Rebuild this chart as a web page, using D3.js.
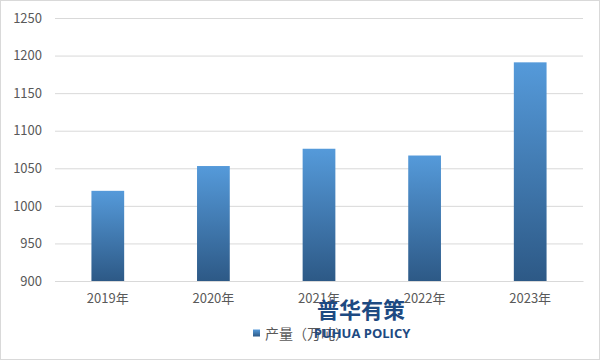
<!DOCTYPE html>
<html><head><meta charset="utf-8">
<script src="https://cdn.jsdelivr.net/npm/d3@7/dist/d3.min.js"></script>
<style>body{margin:0;background:#fff}svg{display:block}</style>
</head><body>
<script>
const categories = ["2019年","2020年","2021年","2022年","2023年"];
const values = [1020, 1053, 1076, 1067, 1191];
const yTicks = [900, 950, 1000, 1050, 1100, 1150, 1200, 1250];
const seriesName = "产量（万吨）";

const W = 601, H = 361;
const m = {left: 55, right: 18, top: 18, bottom: 80};
const svg = d3.select("body").append("svg").attr("width", W).attr("height", H);
const font = "'Microsoft YaHei','Noto Sans CJK SC','DejaVu Sans',sans-serif";

svg.append("rect").attr("x",0.5).attr("y",0.5).attr("width",W-2).attr("height",H-2)
  .attr("fill","#fff").attr("stroke","#d9d9d9");

const x = d3.scaleBand().domain(categories).range([m.left, W - m.right]).paddingInner(0.69).paddingOuter(0.345);
const y = d3.scaleLinear().domain([900, 1250]).range([281, m.top]);

const defs = svg.append("defs");
const g = defs.append("linearGradient").attr("id","bg").attr("x1",0).attr("y1",0).attr("x2",0).attr("y2",1);
g.append("stop").attr("offset","0%").attr("stop-color","#559ada");
g.append("stop").attr("offset","100%").attr("stop-color","#2d5986");

// grid
const yAxis = svg.append("g").attr("transform",`translate(${m.left},0)`)
  .call(d3.axisLeft(y).tickValues(yTicks).tickSize(-(W - m.right - m.left)).tickPadding(13).tickFormat(d3.format("d")));
yAxis.select(".domain").remove();
yAxis.selectAll(".tick line").attr("stroke","#d9d9d9");
yAxis.selectAll(".tick text").attr("fill","#595959").attr("font-size",13).attr("font-family",font);

svg.selectAll("rect.bar").data(values).join("rect").attr("class","bar")
  .attr("x",(d,i)=>x(categories[i])).attr("width",x.bandwidth())
  .attr("y",d=>y(d)).attr("height",d=>y(900)-y(d)).attr("fill","url(#bg)");

const xAxis = svg.append("g").attr("transform",`translate(0,${y(900)})`)
  .call(d3.axisBottom(x).tickSize(0).tickPadding(13));
xAxis.select(".domain").attr("stroke","#d9d9d9");
xAxis.selectAll(".tick text").attr("fill","#595959").attr("font-size",13).attr("font-family",font);

// legend
const lg = svg.append("g");
lg.append("rect").attr("x",253).attr("y",329.5).attr("width",7).attr("height",7).attr("fill","url(#bg)");
lg.append("text").attr("x",265).attr("y",338.5).attr("font-size",14).attr("fill","#595959")
  .attr("font-family",font).text(seriesName);

// watermark
svg.append("text").attr("x",361).attr("y",318).attr("text-anchor","middle").attr("font-size",22)
  .attr("font-weight","bold").attr("fill","#1d4a82").attr("font-family",font).text("普华有策");
svg.append("text").attr("x",362).attr("y",338).attr("text-anchor","middle").attr("font-size",13)
  .attr("font-weight","bold").attr("fill","#1d4a82").attr("font-family","'Open Sans','DejaVu Sans',sans-serif").text("PUHUA POLICY");
</script>
</body></html>
